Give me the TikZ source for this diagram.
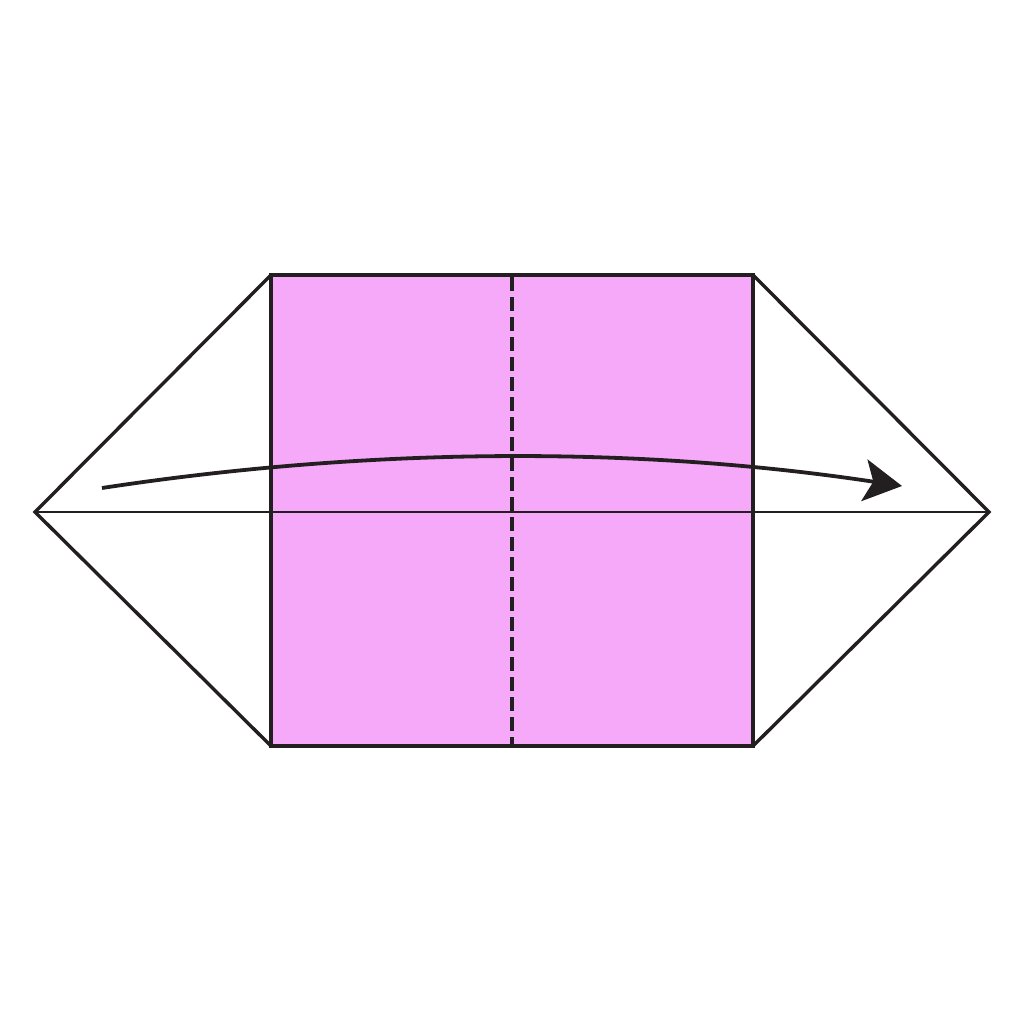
\documentclass[tikz,border=0pt]{standalone}
\usetikzlibrary{arrows.meta}
\definecolor{paper}{HTML}{F5A9F8}
\definecolor{ink}{HTML}{231F20}
\begin{document}
\begin{tikzpicture}[x=1pt,y=-1pt,
  edge/.style={draw=ink,line width=3.4pt,line join=miter},
  thin/.style={draw=ink,line width=1.6pt},
  fold/.style={draw=ink,line width=3.2pt,dash pattern=on 14pt off 6pt},
  move/.style={draw=ink,line width=3.8pt,-{Stealth[length=38pt,width=42pt,inset=9pt]}}]
\useasboundingbox (0,0) rectangle (1024,1024);
\coordinate (L) at (35,512);
\coordinate (R) at (989,512);
\coordinate (TL) at (271,275);
\coordinate (TR) at (753,275);
\coordinate (BL) at (271,746);
\coordinate (BR) at (753,746);
\coordinate (MT) at (512,277);
\coordinate (MB) at (512,746);
\coordinate (A0) at (102,488);
\coordinate (A1) at (902,486);
\fill[paper] (TL) rectangle (BR);
\draw[thin] (L) -- (R);
\draw[fold] (MT) -- (MB);
\draw[edge] (TL) -- (TR) -- (BR) -- (BL) -- cycle;
\draw[edge] (TL) -- (L) -- (BL);
\draw[edge] (TR) -- (R) -- (BR);
\draw[move] (A0) .. controls (371,447) and (637,446) .. (A1);
\end{tikzpicture}
\end{document}
